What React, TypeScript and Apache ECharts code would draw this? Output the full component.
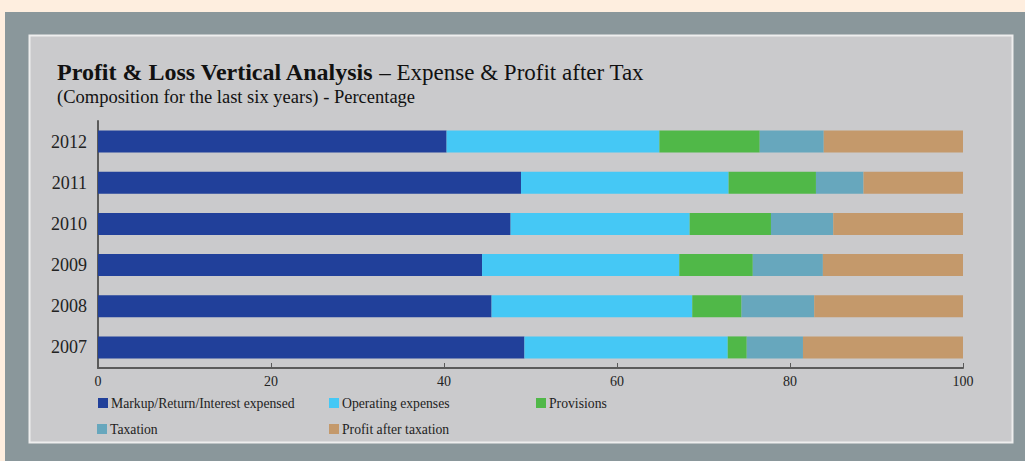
import React, { useEffect, useRef } from "react";
import * as echarts from "echarts";

const years = ["2007", "2008", "2009", "2010", "2011", "2012"];
const markup = [49.3, 45.5, 44.4, 47.7, 48.9, 40.3];
const operating = [23.5, 23.2, 22.8, 20.7, 24.0, 24.6];
const provisions = [2.2, 5.7, 8.5, 9.4, 10.1, 11.6];
const taxation = [6.5, 8.4, 8.1, 7.2, 5.5, 7.4];
const profit = [18.5, 17.2, 16.2, 15.0, 11.5, 16.1];

const seriesNames = [
  "Markup/Return/Interest expensed",
  "Operating expenses",
  "Provisions",
  "Taxation",
  "Profit after taxation",
];
const seriesData = [markup, operating, provisions, taxation, profit];
const colors = ["#21409A", "#45C8F5", "#50B848", "#67A7BD", "#C4996B"];
const xTicks = [0, 20, 40, 60, 80, 100];

const FONT = "'Liberation Serif', 'DejaVu Serif', serif";

export default function App() {
  const ref = useRef<HTMLDivElement>(null);
  useEffect(() => {
    document.body.style.margin = "0";
    const chart = echarts.init(ref.current!, null, { renderer: "svg" });
    const legendPos = [
      { left: 98, top: 396 },
      { left: 329, top: 396 },
      { left: 536, top: 396 },
      { left: 97, top: 422 },
      { left: 329, top: 422 },
    ];
    chart.setOption({
      animation: false,
      backgroundColor: "#FEEEDF",
      graphic: [
        {
          type: "rect",
          shape: { x: 5, y: 12, width: 1030, height: 460 },
          style: { fill: "#8A979B" },
          z: -10,
        },
        {
          type: "rect",
          shape: { x: 29.5, y: 35.5, width: 983, height: 407 },
          style: { fill: "#CACACC", stroke: "#EEEEEE", lineWidth: 2 },
          z: -9,
        },
      ],
      title: [
        {
          text: "{b|Profit & Loss Vertical Analysis} {n|– Expense & Profit after Tax}",
          left: 57,
          top: 60,
          padding: 0,
          textStyle: {
            rich: {
              b: { fontFamily: FONT, fontWeight: "bold", fontSize: 24, color: "#111" },
              n: { fontFamily: FONT, fontWeight: "normal", fontSize: 23, color: "#111" },
            },
          },
        },
        {
          text: "(Composition for the last six years) - Percentage",
          left: 57,
          top: 87,
          padding: 0,
          textStyle: { fontFamily: FONT, fontWeight: "normal", fontSize: 18.5, color: "#111" },
        },
      ],
      legend: seriesNames.map((n, i) => ({
        data: [n],
        left: legendPos[i].left,
        top: legendPos[i].top,
        padding: 0,
        icon: "rect",
        itemWidth: 10,
        itemHeight: 10,
        selectedMode: false,
        textStyle: { fontFamily: FONT, fontSize: 13.7, color: "#222", padding: [0, 0, 0, -2] },
      })),
      grid: { left: 98, right: 62, top: 121, bottom: 93, containLabel: false },
      xAxis: {
        type: "value",
        min: xTicks[0],
        max: xTicks[xTicks.length - 1],
        interval: 20,
        axisLine: { show: true, lineStyle: { color: "#5a5a5a", width: 2 } },
        axisTick: { show: true, inside: true, length: 5, lineStyle: { color: "#5a5a5a", width: 1 } },
        axisLabel: { fontFamily: FONT, fontSize: 14, color: "#222", margin: 6 },
        splitLine: { show: false },
      },
      yAxis: {
        type: "category",
        data: years,
        axisLine: { show: true, lineStyle: { color: "#5a5a5a", width: 2 } },
        axisTick: { show: false },
        axisLabel: { fontFamily: FONT, fontSize: 18, color: "#222", margin: 11 },
      },
      series: seriesNames.map((n, i) => ({
        name: n,
        type: "bar",
        stack: "total",
        barWidth: 22,
        itemStyle: { color: colors[i] },
        data: seriesData[i],
      })),
    });
    return () => chart.dispose();
  }, []);
  return (
    <div
      ref={ref}
      style={{ position: "fixed", left: 0, top: 0, width: 1025, height: 461 }}
    />
  );
}
